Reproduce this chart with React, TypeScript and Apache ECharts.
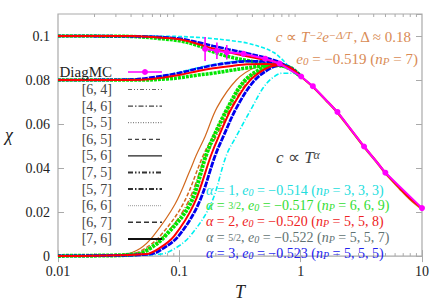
import React, { useEffect, useRef } from 'react';
import * as echarts from 'echarts';

// ---------- data (T, chi) ----------
const diagT = [0.163, 0.204, 0.246, 0.338, 0.51, 0.67, 1.01, 1.26, 2.01, 3.33, 4.99, 10];
const diagChi = [0.0941, 0.0933, 0.0926, 0.0919, 0.0897, 0.0875, 0.0816, 0.0772, 0.0655, 0.0498, 0.0379, 0.0218];
const diagErr = [0.0055, 0.0038, 0.0033, 0.0012, 0.0008, 0.0006, 0, 0, 0, 0, 0, 0];

const tail = [[1.0, 0.0817], [1.25, 0.0772], [1.6, 0.0712], [2.0, 0.0655], [2.6, 0.0575], [3.33, 0.0498], [4.2, 0.0432], [5.0, 0.0379], [6.5, 0.0312], [8, 0.0262], [10, 0.0218]];
const orangeTail = [[1.0, 0.0815], [1.25, 0.0768], [1.6, 0.0707], [2.0, 0.0649], [2.6, 0.0569], [3.33, 0.0492], [4.2, 0.0425], [5.0, 0.0372], [6.5, 0.0305], [8, 0.0255], [10, 0.0211]];

const upperRed = [[0.01, 0.1], [0.04, 0.1], [0.06, 0.0995], [0.1, 0.0985], [0.14, 0.0965], [0.19, 0.0943], [0.26, 0.0925], [0.36, 0.0908], [0.5, 0.0893], [0.64, 0.088], [0.8, 0.0855], [1.0, 0.0817]];
const upperBlue = [[0.01, 0.1], [0.05, 0.0998], [0.1, 0.0988], [0.14, 0.0972], [0.19, 0.0955], [0.26, 0.0938], [0.36, 0.0922], [0.5, 0.0903], [0.64, 0.0885], [0.8, 0.0857], [1.0, 0.0817]];
const upperGreen = [[0.01, 0.1], [0.04, 0.0998], [0.07, 0.0988], [0.1, 0.0978], [0.14, 0.0958], [0.19, 0.0928], [0.26, 0.0905], [0.36, 0.0889], [0.5, 0.0875], [0.64, 0.0868], [0.8, 0.0853], [1.0, 0.0817]];
const upperCyan = [[0.01, 0.1], [0.08, 0.0999], [0.14, 0.0994], [0.19, 0.0988], [0.26, 0.098], [0.36, 0.0968], [0.5, 0.0945], [0.6, 0.0925], [0.7, 0.0895], [0.82, 0.0855], [1.0, 0.0817]];

const middleRed = [[0.01, 0.08], [0.04, 0.08], [0.06, 0.0805], [0.1, 0.0823], [0.14, 0.084], [0.19, 0.0853], [0.26, 0.0863], [0.36, 0.0872], [0.5, 0.0873], [0.64, 0.0872], [0.8, 0.0856], [1.0, 0.0817]];
const middleBlue = [[0.01, 0.08], [0.04, 0.0802], [0.06, 0.0812], [0.1, 0.0832], [0.14, 0.0851], [0.19, 0.0867], [0.26, 0.0878], [0.36, 0.0885], [0.5, 0.0884], [0.64, 0.0877], [0.8, 0.0858], [1.0, 0.0817]];
const middleGreen = [[0.01, 0.08], [0.05, 0.08], [0.08, 0.0805], [0.1, 0.081], [0.14, 0.0822], [0.19, 0.0831], [0.26, 0.0843], [0.36, 0.0855], [0.5, 0.0865], [0.64, 0.0868], [0.8, 0.0855], [1.0, 0.0817]];
const middleCyan = [[0.01, 0.08], [0.05, 0.0803], [0.1, 0.0836], [0.14, 0.0855], [0.19, 0.087], [0.26, 0.0882], [0.36, 0.0888], [0.5, 0.0886], [0.64, 0.0878], [0.8, 0.0858], [1.0, 0.0817]];

const riseOrangeA = [[0.01, 0.0001], [0.02, 0.0003], [0.0357, 0.0009], [0.0475, 0.0035], [0.0609, 0.0091], [0.0923, 0.0237], [0.1228, 0.0391], [0.1375, 0.0457], [0.1634, 0.0545], [0.2053, 0.0677], [0.2953, 0.08], [0.4213, 0.0857], [0.6159, 0.087], [0.8205, 0.0855], [1.0, 0.0815]];
const riseOrangeB = [[0.01, 0.0001], [0.02, 0.0002], [0.0408, 0.0009], [0.0522, 0.0035], [0.0694, 0.0091], [0.1075, 0.0237], [0.1572, 0.0457], [0.1898, 0.0545], [0.2528, 0.0677], [0.3486, 0.0796], [0.482, 0.0848], [0.679, 0.0866], [0.82, 0.0855], [1.0, 0.0815]];
const riseOrangeC = [[0.01, 0.0001], [0.02, 0.0002], [0.044, 0.0009], [0.0563, 0.0035], [0.0751, 0.0091], [0.116, 0.0237], [0.1657, 0.0457], [0.2015, 0.0545], [0.268, 0.0677], [0.3695, 0.0794], [0.5105, 0.0853], [0.705, 0.0866], [0.83, 0.0855], [1.0, 0.0815]];
const riseGreen = [[0.01, 0.0001], [0.02, 0.0002], [0.0449, 0.0009], [0.0574, 0.0035], [0.0763, 0.0091], [0.1228, 0.0237], [0.1657, 0.0457], [0.1929, 0.0545], [0.2528, 0.0677], [0.3422, 0.0794], [0.482, 0.0853], [0.63, 0.0867], [0.82, 0.0856], [1.0, 0.0817]];
const riseRed = [[0.01, 0.0001], [0.02, 0.0002], [0.0532, 0.0009], [0.0681, 0.0035], [0.0906, 0.0091], [0.1322, 0.0237], [0.1823, 0.0457], [0.2118, 0.0545], [0.2731, 0.0677], [0.3765, 0.0794], [0.5203, 0.0853], [0.6545, 0.0867], [0.82, 0.0856], [1.0, 0.0817]];
const riseBlue = [[0.01, 0.0001], [0.02, 0.0002], [0.0574, 0.0009], [0.0735, 0.0035], [0.0984, 0.0091], [0.1438, 0.0237], [0.1975, 0.0457], [0.231, 0.0545], [0.298, 0.0677], [0.41, 0.0794], [0.561, 0.0853], [0.679, 0.0867], [0.82, 0.0856], [1.0, 0.0817]];
const riseCyan = [[0.01, 0], [0.02, 0.0001], [0.0694, 0.0009], [0.0923, 0.0035], [0.1228, 0.0091], [0.1823, 0.0237], [0.2439, 0.0457], [0.2952, 0.0545], [0.3987, 0.0677], [0.4913, 0.0765], [0.5826, 0.0809], [0.705, 0.0831], [0.853, 0.0831], [1.0, 0.0818]];

const minorTicks = [0.02, 0.03, 0.04, 0.05, 0.06, 0.07, 0.08, 0.09, 0.2, 0.3, 0.4, 0.5, 0.6, 0.7, 0.8, 0.9, 2, 3, 4, 5, 6, 7, 8, 9];
const legendLabels = ['[6, 4]', '[4, 6]', '[5, 5]', '[6, 5]', '[5, 6]', '[7, 5]', '[5, 7]', '[6, 6]', '[6, 7]', '[7, 6]'];

const FF = 'Liberation Serif';
const FRAME = '#aaaaaa';

const legendStyles: { dash: number[] | null; w: number; c: string }[] = [
  { dash: [4, 2, 1, 2, 1, 2], w: 1, c: '#666' },
  { dash: [5, 2, 1.5, 2], w: 1.3, c: '#444' },
  { dash: [1, 1.5], w: 1, c: '#666' },
  { dash: [4, 3], w: 1.2, c: '#444' },
  { dash: null, w: 1.2, c: '#222' },
  { dash: [5, 2, 1.5, 2, 1.5, 2], w: 2, c: '#333' },
  { dash: [5, 2, 1.5, 2], w: 2, c: '#333' },
  { dash: [1, 1], w: 1, c: '#999' },
  { dash: [5, 3], w: 1.5, c: '#333' },
  { dash: null, w: 2, c: '#111' },
];

function curve(name: string, data: number[][], color: string, width: number, type: any, z: number) {
  return {
    name, type: 'line', data, symbol: 'none', showSymbol: false, smooth: 0.35,
    lineStyle: { color, width, type }, z, silent: true, clip: true,
  };
}

function plain(x: number, y: number, text: string, color: string, size: number, align: string, italic = false) {
  return {
    type: 'text', x, y, z: 50,
    style: {
      text, fill: color, fontSize: size, fontFamily: FF, fontStyle: italic ? 'italic' : 'normal',
      align, textAlign: align, verticalAlign: 'middle', textVerticalAlign: 'middle',
    },
  };
}

function richTxt(x: number, y: number, text: string, color: string, size: number, align: string) {
  const small = Math.round(size * 0.7);
  const lh = size;
  return {
    type: 'text', x, y, z: 50,
    style: {
      text, fill: color, fontSize: size, fontFamily: FF, lineHeight: lh,
      align, textAlign: align, verticalAlign: 'middle', textVerticalAlign: 'middle',
      rich: {
        i: { fontStyle: 'italic', fontSize: size, fontFamily: FF, fill: color, lineHeight: lh },
        n: { fontSize: size, fontFamily: FF, fill: color, lineHeight: lh },
        s: { fontSize: small, fontFamily: FF, fill: color, fontStyle: 'italic', verticalAlign: 'top', lineHeight: lh },
        b: { fontSize: small, fontFamily: FF, fill: color, fontStyle: 'italic', verticalAlign: 'bottom', lineHeight: lh },
        f: { fontSize: small, fontFamily: FF, fill: color, lineHeight: lh },
      },
    },
  };
}

export default function App() {
  const ref = useRef<HTMLDivElement>(null);
  useEffect(() => {
    const chart = echarts.init(ref.current!, null, { renderer: 'svg' });

    const graphics: any[] = [];
    // legend
    graphics.push(plain(112, 72, 'DiagMC', '#222', 15, 'right'));
    graphics.push({ type: 'line', z: 50, shape: { x1: 128, y1: 72, x2: 162, y2: 72 }, style: { stroke: '#ff00ff', lineWidth: 1.5 } });
    graphics.push({ type: 'circle', z: 51, shape: { cx: 145, cy: 72, r: 3 }, style: { fill: '#ff00ff' } });
    legendLabels.forEach((lab, i) => {
      const y = 89.5 + i * 16.6;
      graphics.push(plain(112, y, lab, '#444', 14, 'right'));
      const st = legendStyles[i];
      graphics.push({ type: 'line', z: 50, shape: { x1: 128, y1: y, x2: 162, y2: y }, style: { stroke: st.c, lineWidth: st.w, lineDash: st.dash || undefined } });
    });
    // annotations
    const orange = '#d98b55';
    graphics.push(richTxt(411, 37, '{i|c}{n| ∝ }{i|T}{s|−2}{i|e}{s|−Δ/T}{n|, Δ ≈ 0.18}', orange, 15, 'right'));
    graphics.push(richTxt(418, 59, '{i|e}{b|0}{n| = −0.519 (}{i|n}{b|P}{n| = 7)}', orange, 15, 'right'));
    graphics.push(richTxt(298, 157, '{i|c}{n| ∝ }{i|T}{s|α}', '#444', 17, 'center'));
    const rows: [string, string][] = [
      ['#22dddd', '{i|α}{n| = 1, }{i|e}{b|0}{n| = −0.514 (}{i|n}{b|P}{n| = 3, 3, 3)}'],
      ['#33dd33', '{i|α}{n| = }{f|3/2}{n|, }{i|e}{b|0}{n| = −0.517 (}{i|n}{b|P}{n| = 6, 6, 9)}'],
      ['#ee2222', '{i|α}{n| = 2, }{i|e}{b|0}{n| = −0.520 (}{i|n}{b|P}{n| = 5, 5, 8)}'],
      ['#5f7272', '{i|α}{n| = }{f|5/2}{n|, }{i|e}{b|0}{n| = −0.522 (}{i|n}{b|P}{n| = 5, 5, 7)}'],
      ['#2222ee', '{i|α}{n| = 3, }{i|e}{b|0}{n| = −0.523 (}{i|n}{b|P}{n| = 5, 5, 5)}'],
    ];
    rows.forEach(([c, t], i) => graphics.push(richTxt(206, 190 + i * 15.8, t, c, 14, 'left')));

    const axisCommon = {
      axisLine: { show: false },
      splitLine: { show: false },
    };

    const option: any = {
      animation: false,
      backgroundColor: '#ffffff',
      grid: { left: 58, right: 14, top: 14, bottom: 42, show: true, borderColor: FRAME, borderWidth: 1.2, containLabel: false },
      xAxis: [
        {
          ...axisCommon, type: 'log', logBase: 10, min: 0.01, max: 10, position: 'bottom',
          axisTick: { inside: true, length: 6, lineStyle: { color: FRAME } },
          axisLabel: { color: '#222', fontSize: 14, fontFamily: FF, margin: 8, formatter: (v: number) => String(Number(v.toPrecision(3))) },
          name: 'T', nameLocation: 'middle', nameGap: 19,
          nameTextStyle: { fontSize: 18, fontStyle: 'italic', fontFamily: FF, color: '#222' },
        },
        {
          ...axisCommon, type: 'log', logBase: 10, min: 0.01, max: 10, position: 'top',
          axisTick: { inside: true, length: 6, lineStyle: { color: FRAME } },
          axisLabel: { show: false },
        },
      ],
      yAxis: [
        {
          ...axisCommon, type: 'value', min: 0, max: 0.11, interval: 0.02, position: 'left',
          axisTick: { inside: true, length: 6, lineStyle: { color: FRAME } },
          axisLabel: {
            color: '#222', fontSize: 14, fontFamily: FF, margin: 8, showMaxLabel: false,
            formatter: (v: number) => (v > 0.105 ? '' : String(Number(v.toFixed(2)))),
          },
          name: 'χ', nameLocation: 'middle', nameGap: 45, nameRotate: 0,
          nameTextStyle: { fontSize: 18, fontStyle: 'italic', fontFamily: FF, color: '#222' },
        },
        {
          ...axisCommon, type: 'value', min: 0, max: 0.11, interval: 0.02, position: 'right',
          axisTick: { inside: true, length: 6, lineStyle: { color: FRAME } },
          axisLabel: { show: false },
        },
      ],
      series: [
        {
          type: 'custom', silent: true, z: 1,
          data: minorTicks.map((v) => [v, 0]),
          renderItem: (params: any, api: any) => {
            const p = api.coord([api.value(0), 0]);
            const cs = params.coordSys;
            return {
              type: 'group',
              children: [
                { type: 'line', shape: { x1: p[0], y1: cs.y + cs.height, x2: p[0], y2: cs.y + cs.height - 3 }, style: { stroke: FRAME, lineWidth: 1 } },
                { type: 'line', shape: { x1: p[0], y1: cs.y, x2: p[0], y2: cs.y + 3 }, style: { stroke: FRAME, lineWidth: 1 } },
              ],
            };
          },
        },
        curve('cyanUpper', upperCyan, '#00f0f0', 1.6, [4, 2], 2),
        curve('cyanMiddle', middleCyan, '#00f0f0', 1.6, [4, 2], 2),
        curve('cyanRise', riseCyan, '#00f0f0', 1.6, [5, 2, 1, 2], 2),
        curve('orangeA', riseOrangeA.concat(orangeTail.slice(1)), '#d2691e', 1.2, 'solid', 3),
        curve('orangeB', riseOrangeB, '#d2691e', 1.5, [4, 2], 3),
        curve('orangeC', riseOrangeC, '#d2691e', 1.5, [5, 2, 1, 2], 3),
        curve('greenUpper', upperGreen, '#00e600', 3.5, [3, 1], 4),
        curve('greenMiddle', middleGreen, '#00e600', 3.5, [3, 1], 4),
        curve('greenRise', riseGreen, '#00e600', 4, [3, 1], 4),
        curve('blueUpper', upperBlue, '#0000ee', 2.6, [6, 1], 5),
        curve('blueMiddle', middleBlue, '#0000ee', 2.6, [6, 1], 5),
        curve('blueRise', riseBlue, '#0000ee', 2.8, [6, 1], 5),
        curve('redUpper', upperRed, '#ff0000', 2, 'solid', 6),
        curve('redMiddle', middleRed, '#ff0000', 2, 'solid', 6),
        curve('redRise', riseRed.concat(tail.slice(1)), '#ff0000', 2, 'solid', 6),
        {
          type: 'custom', silent: true, z: 10,
          data: diagT.map((t, i) => [t, diagChi[i], diagErr[i]]),
          renderItem: (params: any, api: any) => {
            const lo = api.coord([api.value(0), api.value(1) - api.value(2)]);
            const hi = api.coord([api.value(0), api.value(1) + api.value(2)]);
            return { type: 'line', shape: { x1: lo[0], y1: lo[1], x2: hi[0], y2: hi[1] }, style: { stroke: '#ff00ff', lineWidth: 1.6 } };
          },
        },
        {
          name: 'DiagMC', type: 'line', z: 11, silent: true,
          data: diagT.map((t, i) => [t, diagChi[i]]),
          symbol: 'circle', symbolSize: 6, showSymbol: true,
          itemStyle: { color: '#ff00ff' },
          lineStyle: { color: '#ff00ff', width: 2 },
        },
      ],
      graphic: graphics,
    };

    chart.setOption(option);
    return () => chart.dispose();
  }, []);
  return <div ref={ref} style={{ position: 'absolute', left: 0, top: 0, width: 436, height: 306 }} />;
}
